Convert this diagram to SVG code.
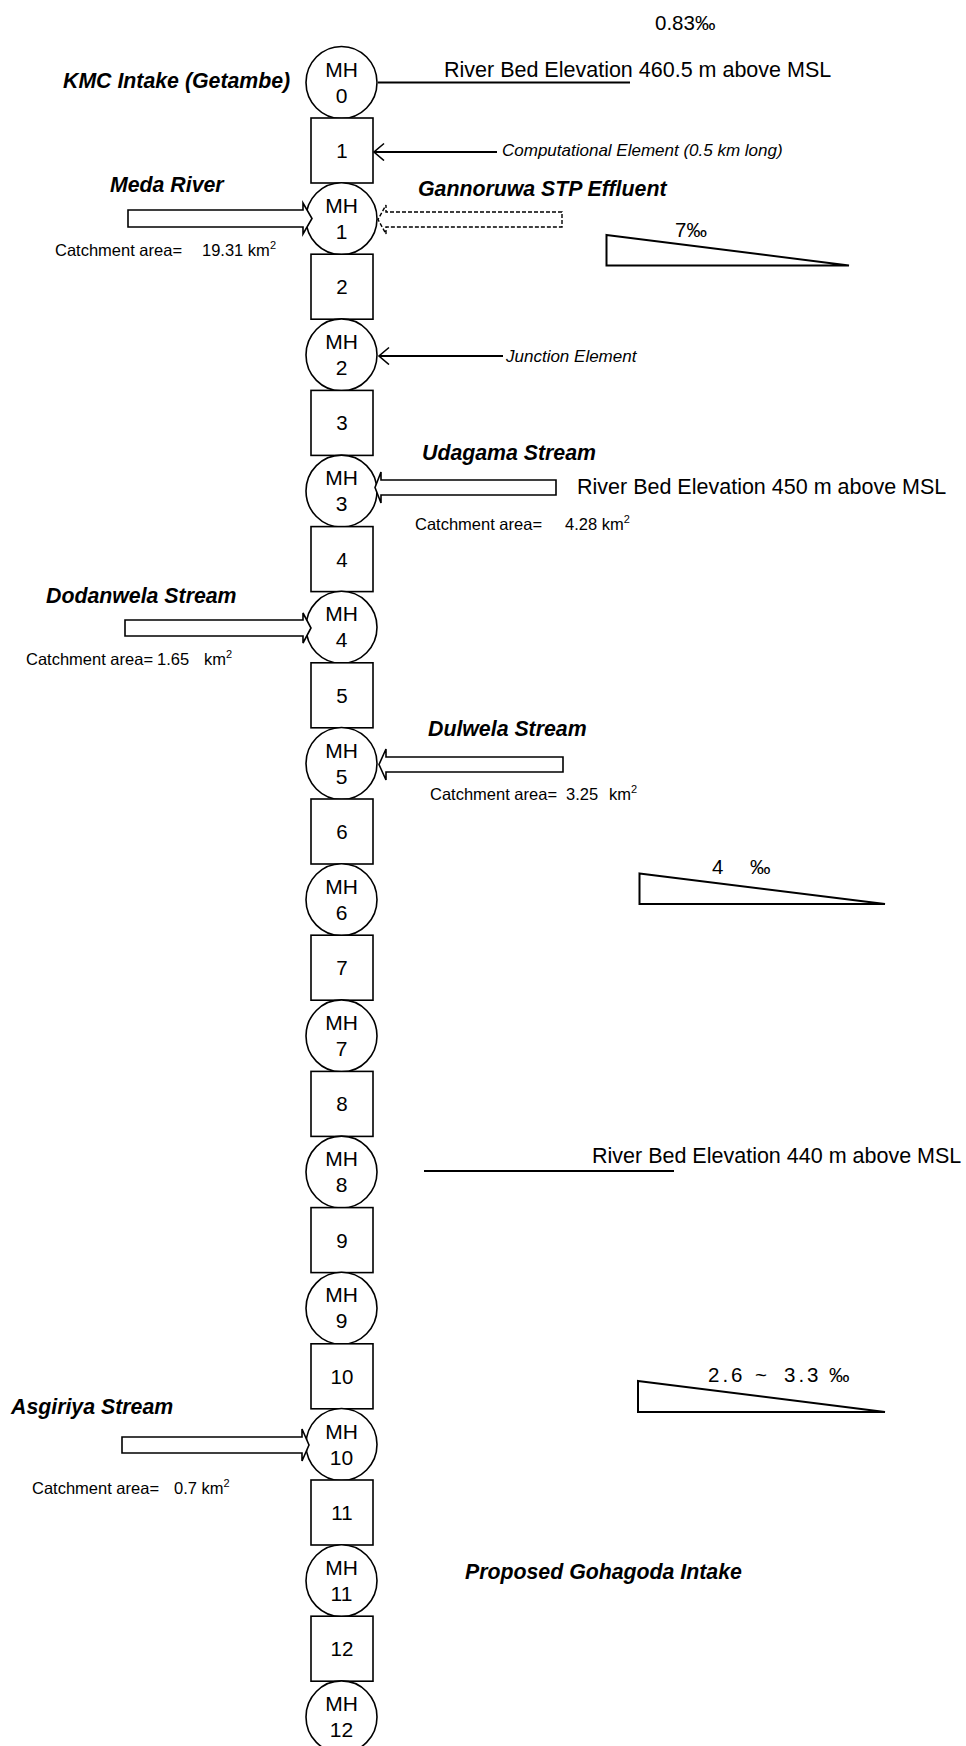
<svg xmlns="http://www.w3.org/2000/svg" width="966" height="1746" viewBox="0 0 966 1746">
<style>
text{font-family:"Liberation Sans",Arial,sans-serif;fill:#000}
.mh ellipse,.el rect{fill:#fff;stroke:#000;stroke-width:1.6}
.nl{font-size:21px;text-anchor:middle}
.bl{font-size:20.5px;text-anchor:middle}
.ttl{font-size:21.3px;font-weight:bold;font-style:italic}
.big{font-size:21.5px}
.note{font-size:17px;font-style:italic}
.cat{font-size:16.5px}
.sup{font-size:11px}
.slope{font-size:20.5px}
.ln{stroke:#000;stroke-width:2;fill:none}
.blk{fill:#fff;stroke:#000;stroke-width:1.6;stroke-linejoin:miter}
.dash{fill:#fff;stroke:#000;stroke-width:1.4;stroke-dasharray:4 2}
.tri{fill:#fff;stroke:#000;stroke-width:2}
</style>
<defs>
<marker id="open" markerUnits="userSpaceOnUse" markerWidth="14" markerHeight="20" refX="11" refY="9" orient="auto">
<path d="M1,0.5 L11,9 L1,17.5" fill="none" stroke="#000" stroke-width="1.6"/>
</marker>
</defs>
<rect width="966" height="1746" fill="#fff"/>

<!-- column nodes -->
<g id="MH0" class="mh"><ellipse cx="341.5" cy="82.5" rx="35.5" ry="36"/><text class="nl" x="341.5" y="76.5">MH</text><text class="nl" x="341.5" y="102.5">0</text></g>
<g id="E1" class="el"><rect x="311" y="118" width="62" height="65"/><text class="bl" x="342" y="158">1</text></g>
<g id="MH1" class="mh"><ellipse cx="341.5" cy="218.7" rx="35.5" ry="36"/><text class="nl" x="341.5" y="212.7">MH</text><text class="nl" x="341.5" y="238.7">1</text></g>
<g id="E2" class="el"><rect x="311" y="254.2" width="62" height="65"/><text class="bl" x="342" y="294.2">2</text></g>
<g id="MH2" class="mh"><ellipse cx="341.5" cy="354.9" rx="35.5" ry="36"/><text class="nl" x="341.5" y="348.9">MH</text><text class="nl" x="341.5" y="374.9">2</text></g>
<g id="E3" class="el"><rect x="311" y="390.4" width="62" height="65"/><text class="bl" x="342" y="430.4">3</text></g>
<g id="MH3" class="mh"><ellipse cx="341.5" cy="491.1" rx="35.5" ry="36"/><text class="nl" x="341.5" y="485.1">MH</text><text class="nl" x="341.5" y="511.1">3</text></g>
<g id="E4" class="el"><rect x="311" y="526.6" width="62" height="65"/><text class="bl" x="342" y="566.6">4</text></g>
<g id="MH4" class="mh"><ellipse cx="341.5" cy="627.3" rx="35.5" ry="36"/><text class="nl" x="341.5" y="621.3">MH</text><text class="nl" x="341.5" y="647.3">4</text></g>
<g id="E5" class="el"><rect x="311" y="662.8" width="62" height="65"/><text class="bl" x="342" y="702.8">5</text></g>
<g id="MH5" class="mh"><ellipse cx="341.5" cy="763.5" rx="35.5" ry="36"/><text class="nl" x="341.5" y="757.5">MH</text><text class="nl" x="341.5" y="783.5">5</text></g>
<g id="E6" class="el"><rect x="311" y="799" width="62" height="65"/><text class="bl" x="342" y="839">6</text></g>
<g id="MH6" class="mh"><ellipse cx="341.5" cy="899.7" rx="35.5" ry="36"/><text class="nl" x="341.5" y="893.7">MH</text><text class="nl" x="341.5" y="919.7">6</text></g>
<g id="E7" class="el"><rect x="311" y="935.2" width="62" height="65"/><text class="bl" x="342" y="975.2">7</text></g>
<g id="MH7" class="mh"><ellipse cx="341.5" cy="1035.9" rx="35.5" ry="36"/><text class="nl" x="341.5" y="1029.9">MH</text><text class="nl" x="341.5" y="1055.9">7</text></g>
<g id="E8" class="el"><rect x="311" y="1071.4" width="62" height="65"/><text class="bl" x="342" y="1111.4">8</text></g>
<g id="MH8" class="mh"><ellipse cx="341.5" cy="1172.1" rx="35.5" ry="36"/><text class="nl" x="341.5" y="1166.1">MH</text><text class="nl" x="341.5" y="1192.1">8</text></g>
<g id="E9" class="el"><rect x="311" y="1207.6" width="62" height="65"/><text class="bl" x="342" y="1247.6">9</text></g>
<g id="MH9" class="mh"><ellipse cx="341.5" cy="1308.3" rx="35.5" ry="36"/><text class="nl" x="341.5" y="1302.3">MH</text><text class="nl" x="341.5" y="1328.3">9</text></g>
<g id="E10" class="el"><rect x="311" y="1343.8" width="62" height="65"/><text class="bl" x="342" y="1383.8">10</text></g>
<g id="MH10" class="mh"><ellipse cx="341.5" cy="1444.5" rx="35.5" ry="36"/><text class="nl" x="341.5" y="1438.5">MH</text><text class="nl" x="341.5" y="1464.5">10</text></g>
<g id="E11" class="el"><rect x="311" y="1480" width="62" height="65"/><text class="bl" x="342" y="1520">11</text></g>
<g id="MH11" class="mh"><ellipse cx="341.5" cy="1580.7" rx="35.5" ry="36"/><text class="nl" x="341.5" y="1574.7">MH</text><text class="nl" x="341.5" y="1600.7">11</text></g>
<g id="E12" class="el"><rect x="311" y="1616.2" width="62" height="65"/><text class="bl" x="342" y="1656.2">12</text></g>
<g id="MH12" class="mh"><ellipse cx="341.5" cy="1716.9" rx="35.5" ry="36"/><text class="nl" x="341.5" y="1710.9">MH</text><text class="nl" x="341.5" y="1736.9">12</text></g>

<!-- connectors -->
<g id="connectors">
<line class="ln" x1="378" y1="82.5" x2="630" y2="82.5"/>
<line class="ln" x1="424" y1="1171" x2="674" y2="1171"/>
<line class="ln" x1="497" y1="152" x2="374" y2="152" stroke-width="1.8" marker-end="url(#open)"/>
<line class="ln" x1="503" y1="356" x2="379" y2="356" stroke-width="1.8" marker-end="url(#open)"/>
<path id="meda-arrow" class="blk" d="M128,210 H303 V203 L312,218.5 L303,234 V227 H128 Z"/>
<path id="gannoruwa-arrow" class="dash" d="M562,212 H386 V205 L378,219.5 L386,234 V227 H562 Z"/>
<path id="udagama-arrow" class="blk" d="M556,480 H381 V472 L375,487.5 L381,503 V495 H556 Z"/>
<path id="dodanwela-arrow" class="blk" d="M125,620 H303 V613 L311,628 L303,643 V636 H125 Z"/>
<path id="dulwela-arrow" class="blk" d="M563,757 H386 V749 L379,764.5 L386,780 V772 H563 Z"/>
<path id="asgiriya-arrow" class="blk" d="M122,1437 H302 V1429 L309,1445 L302,1461 V1453 H122 Z"/>
</g>

<!-- labels -->
<g id="labels">
<text class="ttl" x="63" y="88">KMC Intake (Getambe)</text>
<text class="ttl" x="110" y="192">Meda River</text>
<text class="ttl" x="418" y="196">Gannoruwa STP Effluent</text>
<text class="ttl" x="422" y="460">Udagama Stream</text>
<text class="ttl" x="46" y="603">Dodanwela Stream</text>
<text class="ttl" x="428" y="736">Dulwela Stream</text>
<text class="ttl" x="11" y="1414">Asgiriya Stream</text>
<text class="ttl" x="465" y="1579">Proposed Gohagoda Intake</text>

<text class="big" x="444" y="77">River Bed Elevation 460.5 m above MSL</text>
<text class="big" x="577" y="494">River Bed Elevation 450 m above MSL</text>
<text class="big" x="592" y="1163">River Bed Elevation 440 m above MSL</text>

<text class="note" x="502" y="156">Computational Element (0.5 km long)</text>
<text class="note" x="506" y="362">Junction Element</text>

<text class="cat" x="55" y="256">Catchment area=<tspan x="202">19.31 km</tspan><tspan class="sup" dy="-7">2</tspan></text>
<text class="cat" x="415" y="530">Catchment area=<tspan x="565">4.28 km</tspan><tspan class="sup" dy="-7">2</tspan></text>
<text class="cat" x="26" y="665">Catchment area=<tspan x="157">1.65</tspan><tspan x="204">km</tspan><tspan class="sup" dy="-7">2</tspan></text>
<text class="cat" x="430" y="800">Catchment area=<tspan x="566">3.25</tspan><tspan x="609">km</tspan><tspan class="sup" dy="-7">2</tspan></text>
<text class="cat" x="32" y="1494">Catchment area=<tspan x="174">0.7 km</tspan><tspan class="sup" dy="-7">2</tspan></text>
</g>

<!-- slopes -->
<g id="slopes">
<text class="slope" x="655" y="30" font-size="22">0.83‰</text>
<polygon class="tri" points="606.5,235 849,265.5 606.5,265.5"/>
<text class="slope" x="675" y="237">7‰</text>
<polygon class="tri" points="639.5,873.5 885,904 639.5,904"/>
<text class="slope" x="712" y="874">4<tspan x="750">‰</tspan></text>
<polygon class="tri" points="638,1381 885,1412 638,1412"/>
<text class="slope" y="1382" letter-spacing="3"><tspan x="708">2.6</tspan><tspan x="755">~</tspan><tspan x="784">3.3</tspan><tspan x="829">‰</tspan></text>
</g>
</svg>
